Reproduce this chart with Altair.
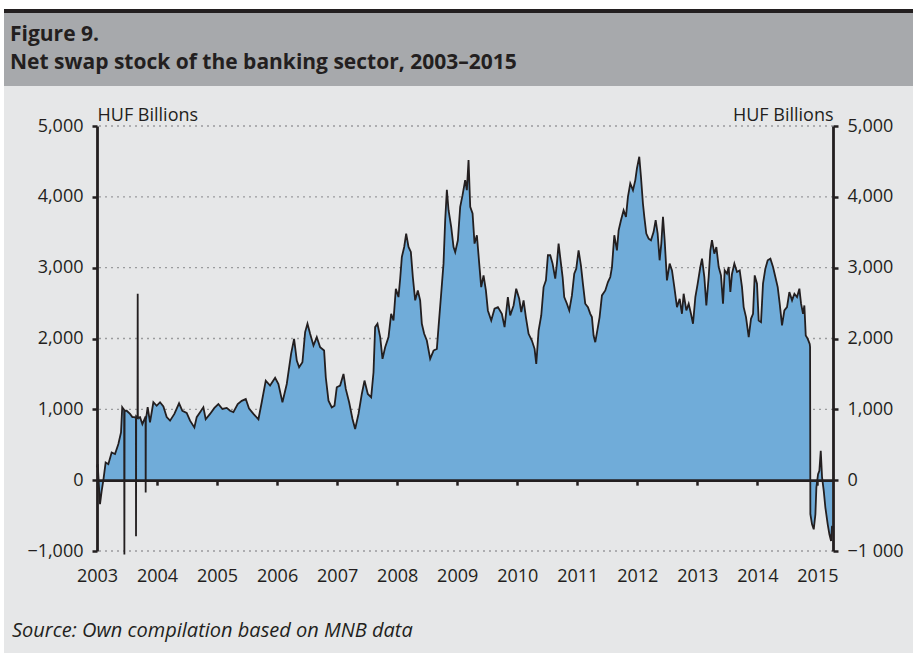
import altair as alt
import pandas as pd

# ---- data (decimal years, HUF billions) ----
years = [
    2003.000, 2003.011, 2003.050, 2003.078, 2003.106, 2003.144, 2003.189, 2003.244, 2003.300, 2003.356,
    2003.400, 2003.420, 2003.452, 2003.456, 2003.460, 2003.494, 2003.550, 2003.589, 2003.622, 2003.648,
    2003.650, 2003.653, 2003.675, 2003.678, 2003.681, 2003.717, 2003.756, 2003.800, 2003.809, 2003.811,
    2003.814, 2003.844, 2003.883, 2003.939, 2003.994, 2004.050, 2004.106, 2004.161, 2004.217, 2004.289,
    2004.367, 2004.422, 2004.494, 2004.550, 2004.622, 2004.661, 2004.717, 2004.772, 2004.811, 2004.883,
    2004.956, 2005.022, 2005.089, 2005.161, 2005.217, 2005.272, 2005.344, 2005.411, 2005.478, 2005.533,
    2005.606, 2005.689, 2005.744, 2005.811, 2005.883, 2005.967, 2006.022, 2006.089, 2006.161, 2006.233,
    2006.283, 2006.328, 2006.367, 2006.422, 2006.467, 2006.506, 2006.550, 2006.606, 2006.661, 2006.717,
    2006.783, 2006.811, 2006.856, 2006.911, 2006.956, 2006.994, 2007.050, 2007.106, 2007.144, 2007.200,
    2007.256, 2007.300, 2007.356, 2007.411, 2007.456, 2007.511, 2007.567, 2007.606, 2007.633, 2007.672,
    2007.717, 2007.756, 2007.800, 2007.856, 2007.900, 2007.939, 2007.978, 2008.022, 2008.050, 2008.078,
    2008.117, 2008.150, 2008.189, 2008.228, 2008.261, 2008.300, 2008.344, 2008.383, 2008.411, 2008.450,
    2008.494, 2008.550, 2008.606, 2008.661, 2008.689, 2008.733, 2008.772, 2008.800, 2008.828, 2008.856,
    2008.900, 2008.939, 2008.967, 2009.011, 2009.050, 2009.089, 2009.133, 2009.161, 2009.189, 2009.217,
    2009.256, 2009.289, 2009.328, 2009.367, 2009.400, 2009.439, 2009.478, 2009.511, 2009.567, 2009.622,
    2009.678, 2009.744, 2009.789, 2009.844, 2009.883, 2009.939, 2009.983, 2010.033, 2010.067, 2010.106,
    2010.144, 2010.189, 2010.244, 2010.289, 2010.317, 2010.356, 2010.400, 2010.439, 2010.478, 2010.511,
    2010.550, 2010.589, 2010.633, 2010.661, 2010.689, 2010.722, 2010.756, 2010.783, 2010.828, 2010.867,
    2010.911, 2010.950, 2010.983, 2011.022, 2011.061, 2011.094, 2011.133, 2011.178, 2011.217, 2011.244,
    2011.272, 2011.300, 2011.344, 2011.372, 2011.411, 2011.467, 2011.511, 2011.550, 2011.578, 2011.617,
    2011.661, 2011.689, 2011.728, 2011.772, 2011.811, 2011.844, 2011.883, 2011.928, 2011.967, 2011.994,
    2012.033, 2012.061, 2012.094, 2012.117, 2012.150, 2012.189, 2012.228, 2012.272, 2012.306, 2012.339,
    2012.372, 2012.400, 2012.428, 2012.456, 2012.494, 2012.539, 2012.578, 2012.617, 2012.661, 2012.706,
    2012.744, 2012.772, 2012.817, 2012.856, 2012.894, 2012.928, 2012.967, 2013.006, 2013.050, 2013.078,
    2013.117, 2013.150, 2013.189, 2013.217, 2013.244, 2013.283, 2013.317, 2013.356, 2013.394, 2013.428,
    2013.456, 2013.494, 2013.522, 2013.550, 2013.578, 2013.617, 2013.661, 2013.706, 2013.744, 2013.772,
    2013.811, 2013.856, 2013.894, 2013.928, 2013.956, 2013.994, 2014.022, 2014.061, 2014.094, 2014.133,
    2014.172, 2014.217, 2014.261, 2014.300, 2014.339, 2014.372, 2014.411, 2014.450, 2014.494, 2014.533,
    2014.578, 2014.617, 2014.661, 2014.700, 2014.728, 2014.761, 2014.783, 2014.806, 2014.839, 2014.872,
    2014.878, 2014.883, 2014.911, 2014.939, 2014.967, 2014.983, 2015.011, 2015.033, 2015.056, 2015.078,
    2015.106, 2015.133, 2015.172, 2015.200, 2015.228, 2015.244,
]
values = [
    180, 226, -340, -150, 0, 250, 226, 390, 370, 510,
    675, 1030, 990, -1050, 980, 980, 935, 890, 890, 880,
    -790, 900, 880, 2630, 880, 890, 790, 880, 860, -175,
    850, 1030, 815, 1100, 1050, 1100, 1040, 890, 840, 935,
    1085, 980, 950, 840, 745, 890, 960, 1030, 860, 935,
    1020, 1075, 1005, 1020, 980, 960, 1075, 1120, 1145, 1010,
    935, 860, 1100, 1405, 1335, 1445, 1358, 1099, 1358, 1783,
    1995, 1689, 1594, 1665, 2090, 2208, 2066, 1901, 2019, 1877,
    1830, 1453, 1123, 1028, 1052, 1311, 1335, 1500, 1288, 1099,
    863, 722, 934, 1217, 1406, 1217, 1170, 1524, 2160, 2208,
    2019, 1712, 1877, 2019, 2349, 2255, 2703, 2585, 2844, 3151,
    3292, 3481, 3292, 3222, 2868, 2538, 2679, 2538, 2208, 2066,
    1972, 1712, 1830, 1854, 2160, 2632, 3057, 3670, 4100, 3811,
    3575, 3292, 3220, 3387, 3858, 4024, 4236, 4094, 4519, 3858,
    3764, 3340, 3458, 3057, 2726, 2891, 2679, 2396, 2255, 2420,
    2443, 2349, 2160, 2585, 2325, 2467, 2703, 2561, 2373, 2538,
    2302, 2066, 1972, 1854, 1641, 2113, 2325, 2726, 2821, 3175,
    3175, 3057, 2844, 3057, 3340, 3104, 2868, 2585, 2491, 2396,
    2608, 2915, 2986, 3245, 3033, 2774, 2491, 2443, 2349, 2302,
    2042, 1948, 2160, 2302, 2608, 2679, 2797, 2868, 3009, 3458,
    3245, 3528, 3670, 3811, 3717, 4000, 4189, 4094, 4236, 4401,
    4566, 4283, 3906, 3717, 3481, 3410, 3387, 3505, 3670, 3481,
    3104, 3340, 3717, 3387, 2821, 3057, 2962, 2726, 2443, 2561,
    2349, 2632, 2396, 2491, 2349, 2208, 2585, 2774, 3009, 3127,
    2868, 2467, 2868, 3245, 3387, 3198, 3292, 3009, 2891, 2491,
    2962, 2915, 3009, 2656, 2915, 3057, 2939, 2962, 2726, 2443,
    2302, 2019, 2278, 2349, 2891, 2774, 2255, 2231, 2774, 2986,
    3104, 3127, 3009, 2868, 2726, 2491, 2184, 2396, 2443, 2656,
    2538, 2632, 2585, 2703, 2491, 2349, 2467, 2042, 1995, 1924,
    1880, -481, -623, -694, -481, -104, 85, 132, 415, 38,
    -151, -387, -623, -764, -859, -646,
]

year_labels = list(range(2003, 2016))
year_ticks = list(range(2004, 2016))
y_ticks = [-1000, 0, 1000, 2000, 3000, 4000, 5000]
grid_values = [-1000, 1000, 2000, 3000, 4000, 5000]

title_lines = ["Figure 9.", "Net swap stock of the banking sector, 2003\u20132015"]
source_text = "Source: Own compilation based on MNB data"
unit_label = "HUF Billions"

df = pd.DataFrame({"year": years, "value": values})

INK = "#231f20"
BLUE = "#70acd9"
FONT = "Open Sans"

x_scale = alt.Scale(domain=[2003, 2015.26], nice=False, zero=False)
y_scale = alt.Scale(domain=[-1000, 5000], nice=False)

one = alt.Data(values=[{"k": 1}])

# ---- decorations: header band and frame ----
white_top = alt.Chart(one).mark_rect(color="white").encode(
    x=alt.value(-97), x2=alt.value(816), y=alt.value(-126), y2=alt.value(-117))
black_bar = alt.Chart(one).mark_rect(color=INK).encode(
    x=alt.value(-93), x2=alt.value(816), y=alt.value(-117), y2=alt.value(-113))
header = alt.Chart(one).mark_rect(color="#a7a9ac").encode(
    x=alt.value(-93), x2=alt.value(816), y=alt.value(-113), y2=alt.value(-40))
white_left = alt.Chart(one).mark_rect(color="white").encode(
    x=alt.value(-97), x2=alt.value(-93), y=alt.value(-126), y2=alt.value(527))

t1 = alt.Chart(alt.Data(values=[{"t": title_lines[0]}])).mark_text(
    align="left", baseline="alphabetic", font=FONT, fontWeight="bold",
    fontSize=21, color=INK).encode(x=alt.value(-87), y=alt.value(-85), text="t:N")
t2 = alt.Chart(alt.Data(values=[{"t": title_lines[1]}])).mark_text(
    align="left", baseline="alphabetic", font=FONT, fontWeight="bold",
    fontSize=21, color=INK).encode(x=alt.value(-87), y=alt.value(-57), text="t:N")
src = alt.Chart(alt.Data(values=[{"t": source_text}])).mark_text(
    align="left", baseline="alphabetic", font=FONT, fontStyle="italic",
    fontSize=20, color=INK).encode(x=alt.value(-85), y=alt.value(511), text="t:N")

# ---- grid ----
grid = alt.Chart(pd.DataFrame({"g": grid_values})).mark_rule(
    color="#9a9b9d", strokeDash=[2, 4], strokeWidth=1.3).encode(
    y=alt.Y("g:Q", scale=y_scale, axis=None))

axis_common = dict(
    values=y_ticks, grid=False, domainColor=INK, domainWidth=2.8,
    tickColor=INK, tickWidth=2.5, tickSize=5, labelFont=FONT, labelFontSize=18,
    labelColor=INK, labelPadding=9, title=unit_label, titleAngle=0, titleX=0,
    titleY=-6, titleBaseline="alphabetic", titleFont=FONT, titleFontSize=18,
    titleFontWeight="normal", titleColor=INK, zindex=2,
)

area = alt.Chart(df).mark_area(color=BLUE, opacity=1).encode(
    x=alt.X("year:Q", scale=x_scale, axis=alt.Axis(
        orient="bottom", values=year_labels, format="d", domain=False, ticks=False,
        tickSize=0, grid=False, labelFont=FONT, labelFontSize=18, labelColor=INK,
        labelPadding=16, title=None, labelFlush=False)),
    y=alt.Y("value:Q", scale=y_scale, axis=alt.Axis(
        orient="left", titleAlign="left",
        labelExpr="format(datum.value, ',.0f')", **axis_common)),
)

line = alt.Chart(df).mark_line(color=INK, strokeWidth=1.8).encode(
    x=alt.X("year:Q", scale=x_scale, axis=alt.Axis(
        orient="bottom", offset=-70.83, values=year_ticks, labels=False,
        domainColor=INK, domainWidth=2.8, tickColor=INK, tickWidth=2.5,
        tickSize=5, grid=False, title=None, zindex=2)),
    y=alt.Y("value:Q", scale=y_scale, axis=alt.Axis(
        orient="right", titleAlign="right",
        labelExpr="datum.value == -1000 ? '\u22121 000' : format(datum.value, ',.0f')",
        **axis_common)),
)

chart = alt.layer(
    white_top, black_bar, header, white_left, t1, t2, src, grid, area, line
).resolve_axis(x="independent", y="independent").properties(
    width=736, height=425,
    padding={"left": 97, "top": 126, "right": 80, "bottom": 102},
    autosize=alt.AutoSizeParams(type="none"),
    background="#e6e7e8",
).configure_view(stroke=None)

chart.save("out.html", embed_options={"renderer": "svg", "actions": False})
